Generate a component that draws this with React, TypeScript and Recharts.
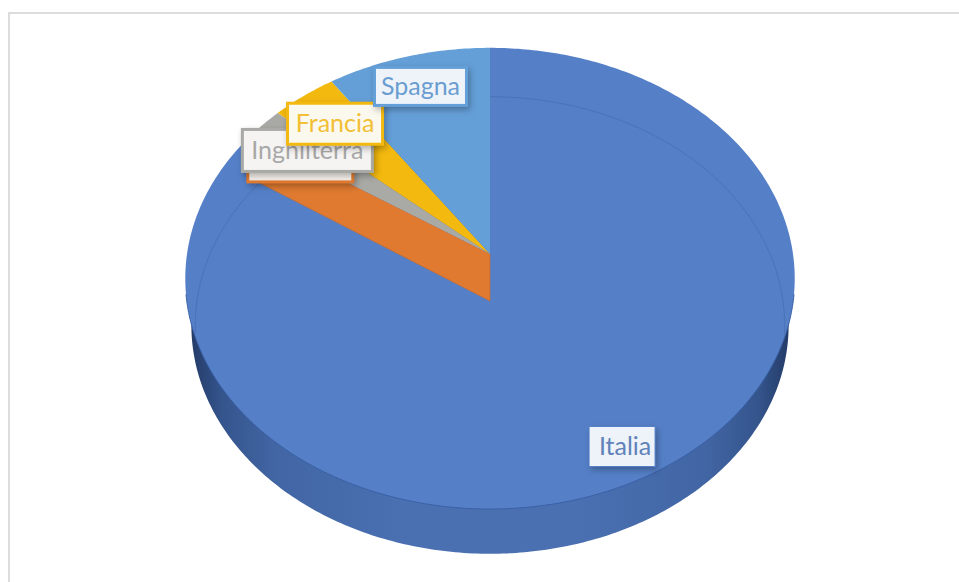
import React from "react";
import { PieChart, Pie } from "recharts";

// Shares of each country, clockwise from twelve o'clock.
const countries = ["Italia", "", "Inghilterra", "Francia", "Spagna"];
const shares = [83.9, 0.44, 2.17, 3.86, 9.63];
const sliceColors = ["#5580c8", "#df7a30", "#a9a9a5", "#f3b90f", "#659fd8"];
const labelInks = ["#5f83ba", "#df7a30", "#a8a8a8", "#f2bf35", "#6a9dd0"];
const labelFills = ["#eef2f9", "#f6f1ec", "#f5f4f2", "#fbf8ee", "#eef3fa"];

// Label anchor: fraction of the way to the rim, plus a small nudge in pixels.
const labelReach = [0.92, 0.745, 0.76, 0.77, 0.77];
const labelNudgeX = [-3, 0, 0, 0, 0];
const labelNudgeY = [9, 1, 2, 1, 0];
const labelWidths = [66, 105, 130, 95, 92];
const labelHeights = [40, 38, 42, 41, 38];

const chartData = countries.map((name, i) => ({
  name: name || "\u200b",
  value: shares[i],
  fill: sliceColors[i],
  idx: i,
}));

// Perspective of the tilted disc: the lid, the base lying below it, and the
// slightly wider outline of the side wall.
const TILT = 0.106;
const SQUASH = 0.7525;
const DEPTH = 47;
const BASE_SCALE = 0.967;
const BASE_SQUASH = 0.771;
const WALL_SCALE = 0.98;
const WALL_SQUASH = 0.761;

const rimPoint = (cx: number, cy: number, r: number, phi: number, squash = SQUASH): [number, number] => {
  const rad = (phi * Math.PI) / 180;
  const X = Math.sin(rad);
  const Y = -Math.cos(rad);
  const d = 1 - TILT * Y;
  return [cx + (r * X) / d, cy + (r * squash * Y) / d];
};

const arcPoints = (cx: number, cy: number, r: number, from: number, to: number, squash = SQUASH) => {
  const pts: string[] = [];
  const steps = Math.max(2, Math.ceil(Math.abs(to - from) / 0.75));
  for (let i = 0; i <= steps; i++) {
    const [x, y] = rimPoint(cx, cy, r, from + ((to - from) * i) / steps, squash);
    pts.push(`${x.toFixed(2)} ${y.toFixed(2)}`);
  }
  return pts;
};

const wedgePath = (cx: number, cy: number, r: number, from: number, to: number, squash = SQUASH) =>
  `M${cx} ${cy} L${arcPoints(cx, cy, r, from, to, squash).join(" L")} Z`;

const linePath = (cx: number, cy: number, r: number, from: number, to: number, squash = SQUASH) =>
  `M${arcPoints(cx, cy, r, from, to, squash).join(" L")}`;

const Slice = (props: any) => {
  const { cx, cy, outerRadius: r, startAngle, endAngle, fill, payload } = props;
  const from = 90 - startAngle;
  const to = 90 - endAngle;
  const idx = payload?.idx ?? props.idx;
  const baseY = cy + DEPTH;
  const baseR = r * BASE_SCALE;

  if (idx === 0) {
    return (
      <g>
        <defs>
          <linearGradient id="sideShade" x1="0" y1="0" x2="1" y2="0">
            <stop offset="0" stopColor="#243c68" />
            <stop offset="0.05" stopColor="#34548c" />
            <stop offset="0.14" stopColor="#4266a4" />
            <stop offset="0.35" stopColor="#4a70b2" />
            <stop offset="0.65" stopColor="#4a70b2" />
            <stop offset="0.86" stopColor="#4266a4" />
            <stop offset="0.95" stopColor="#34548c" />
            <stop offset="1" stopColor="#243c68" />
          </linearGradient>
        </defs>
        <path d={wedgePath(cx, baseY, r * WALL_SCALE, 0, 360, WALL_SQUASH)} fill="url(#sideShade)" />
        <path d={wedgePath(cx, cy, r, from, to)} fill={fill} />
        <path d={linePath(cx, baseY, baseR, 262, 458, BASE_SQUASH)} fill="none" stroke="#4a72b6" strokeWidth={1} />
        <path d={linePath(cx, cy, r, 100, 260)} fill="none" stroke="#3a60a6" strokeWidth={1} />
      </g>
    );
  }

  const [lx, ly] = rimPoint(cx, cy, r, to);
  const [bx, by] = rimPoint(cx, baseY, baseR, to, BASE_SQUASH);
  return (
    <g>
      <path d={wedgePath(cx, cy, r, from, to)} fill={fill} />
      {idx === 1 && (
        <path
          d={`M${cx} ${cy} L${cx} ${baseY} L${bx} ${by} L${lx} ${ly} Z`}
          fill={fill}
          stroke="#c9692a"
          strokeWidth={0.6}
        />
      )}
    </g>
  );
};

const CountryLabel = (props: any) => {
  const { cx, cy, outerRadius: r, midAngle, payload, index } = props;
  const i = payload?.idx ?? index;
  const rad = ((90 - midAngle) * Math.PI) / 180;
  const x = cx + r * Math.sin(rad) * labelReach[i] + labelNudgeX[i];
  const y = cy - r * SQUASH * Math.cos(rad) * labelReach[i] + labelNudgeY[i];
  const w = labelWidths[i];
  const h = labelHeights[i];
  return (
    <g>
      <rect
        x={x - w / 2}
        y={y - h / 2}
        width={w}
        height={h}
        fill={labelFills[i]}
        stroke={i === 0 ? "#5580c8" : sliceColors[i]}
        strokeWidth={i === 0 ? 1 : 3}
        style={{ filter: "drop-shadow(2px 3px 3px rgba(0,0,0,0.28))" }}
      />
      <text
        x={x + (i === 0 ? 3 : 0)}
        y={y + 2}
        textAnchor="middle"
        dominantBaseline="middle"
        fontFamily="Lato, 'Open Sans', sans-serif"
        fontSize={25}
        fill={labelInks[i]}
      >
        {countries[i]}
      </text>
    </g>
  );
};

export default function App() {
  return (
    <div style={{ position: "absolute", left: 0, top: 0, width: 959, height: 582, overflow: "hidden", background: "#fff" }}>
      <div
        style={{
          position: "absolute",
          left: 8,
          top: 12,
          width: 980,
          height: 600,
          borderLeft: "2px solid #dcdcdc",
          borderTop: "2px solid #dcdcdc",
        }}
      />
      <div style={{ position: "absolute", left: 0, top: 0 }}>
        <PieChart width={959} height={582} margin={{ top: 0, right: 0, bottom: 0, left: 0 }}>
          <Pie
            data={chartData}
            dataKey="value"
            nameKey="name"
            cx={490}
            cy={254}
            outerRadius={303}
            innerRadius={0}
            startAngle={90}
            endAngle={-270}
            stroke="none"
            isAnimationActive={false}
            shape={Slice}
            label={CountryLabel}
            labelLine={false}
          />
        </PieChart>
      </div>
    </div>
  );
}
